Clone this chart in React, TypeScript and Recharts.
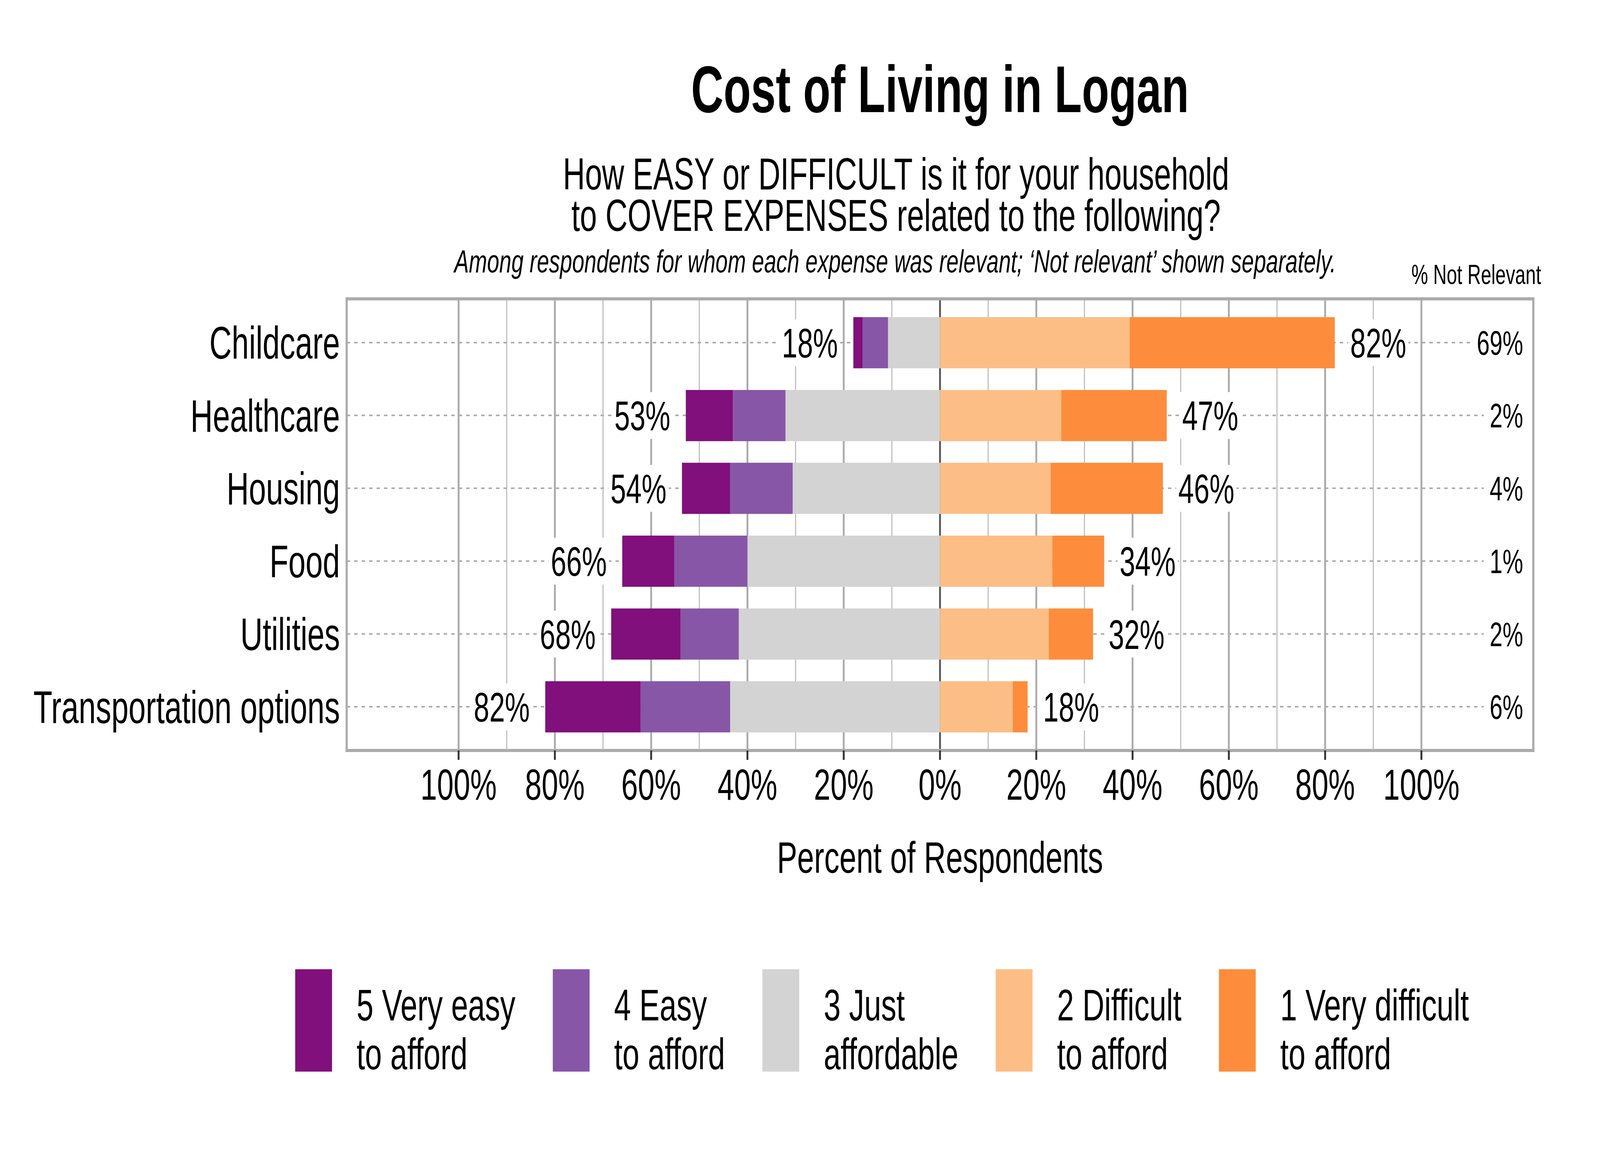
import React from 'react';
import { BarChart, Bar, XAxis, YAxis, CartesianGrid, LabelList } from 'recharts';

const FONT = '"Liberation Sans", Arial, Helvetica, sans-serif';

// ---- data ----
const categories = ['Childcare', 'Healthcare', 'Housing', 'Food', 'Utilities', 'Transportation options'];
const veryEasy = [1.9, 9.8, 10.0, 10.8, 14.4, 19.8];
const easy = [5.3, 10.9, 13.0, 15.2, 12.1, 18.6];
const justAffordable = [10.8, 32.1, 30.6, 40.0, 41.8, 43.6];
const difficult = [39.4, 25.2, 23.0, 23.3, 22.6, 15.1];
const veryDifficult = [42.6, 21.9, 23.3, 10.8, 9.2, 3.1];
const easyTotals = [18, 53, 54, 66, 68, 82];
const difficultTotals = [82, 47, 46, 34, 32, 18];
const notRelevant = [69, 2, 4, 1, 2, 6];

const majorTicks = [-100, -80, -60, -40, -20, 0, 20, 40, 60, 80, 100];
const minorTicks = [-90, -70, -50, -30, -10, 10, 30, 50, 70, 90];
const zeroTick = [0];

const legendLabels = ['5 Very easy\nto afford', '4 Easy\nto afford', '3 Just\naffordable', '2 Difficult\nto afford', '1 Very difficult\nto afford'];
const legendColors = ['#810F7C', '#8856A7', '#D3D3D3', '#FDBE85', '#FD8D3C'];

const X_LIMIT = 123.25;
const xDomain = [-X_LIMIT, X_LIMIT];

const CHART_W = 6000;
const CHART_H = 3000;

const data = categories.map((cat, i) => ({
  cat,
  just: -justAffordable[i],
  easy: -easy[i],
  veryEasy: -veryEasy[i],
  difficult: difficult[i],
  veryDifficult: veryDifficult[i],
  leftLabel: easyTotals[i],
  rightLabel: difficultTotals[i],
  nrAnchor: 0,
}));

const BORDER = { stroke: '#ABABAB', strokeWidth: 8, strokeLinecap: 'square' as const };

const glyphW = (s: string) =>
  s.split('').reduce((a, c) => a + (c === '%' ? 0.889 : c === ' ' ? 0.278 : 0.556), 0);

const LABEL_FS = 105;
const LABEL_GAP = 58;

const makeEdgeLabel = (side: 'left' | 'right') => (props: any) => {
  const { x, y, width, height, value } = props;
  if (x == null || y == null) return null;
  const xa = Number(x), wa = Number(width), ya = Number(y), ha = Number(height);
  const x0 = Math.min(xa, xa + wa);
  const x1 = Math.max(xa, xa + wa);
  const cy = ya + ha / 2;
  const text = `${value}%`;
  const tw = glyphW(text) * LABEL_FS;
  const tx = side === 'left' ? x0 - LABEL_GAP - tw : x1 + LABEL_GAP;
  return (
    <g>
      <rect x={tx - 8} y={cy - 60} width={tw + 16} height={120} fill="#FFFFFF" />
      <text x={tx} y={cy + 0.358 * LABEL_FS} fontSize={LABEL_FS} fill="#000" fontFamily={FONT}>
        {text}
      </text>
    </g>
  );
};

const NR_FS = 87;
const NotRelevantTick = (props: any) => {
  const { x, y, payload } = props;
  const i = categories.indexOf(payload.value);
  if (i < 0) return null;
  const text = `${notRelevant[i]}%`;
  const tw = glyphW(text) * NR_FS;
  return (
    <g>
      <rect x={x - tw - 22} y={y - 55} width={tw + 22 + 30} height={110} fill="#FFFFFF" />
      <text x={x} y={y + 0.358 * NR_FS} textAnchor="end" fontSize={NR_FS} fill="#000" fontFamily={FONT}>
        {text}
      </text>
    </g>
  );
};

const CategoryTick = (props: any) => {
  const { x, y, payload } = props;
  return (
    <text x={x} y={y + 0.358 * 116} textAnchor="end" fontSize={116} fill="#000" fontFamily={FONT}>
      {payload.value}
    </text>
  );
};

export default function App() {
  // The chart is laid out at 6000x3000; if the browser viewport is smaller, fit it to the viewport.
  const vw = typeof window !== 'undefined' && window.innerWidth >= 1000 ? window.innerWidth : CHART_W;
  const vh = typeof window !== 'undefined' && window.innerHeight >= 500 ? window.innerHeight : CHART_H;
  const sx = Math.min(1, vw / CHART_W);
  const sy = Math.min(1, vh / CHART_H);

  return (
    <div
      style={{
        position: 'absolute',
        left: 0,
        top: 0,
        width: CHART_W,
        height: CHART_H,
        background: '#fff',
        fontFamily: FONT,
        transform: `scale(${sx}, ${sy})`,
        transformOrigin: '0 0',
      }}
    >
      <BarChart
        width={CHART_W}
        height={CHART_H}
        data={data}
        layout="vertical"
        stackOffset="sign"
        barSize={131}
        margin={{ top: 764, right: 250, bottom: 749, left: 0 }}
      >
        <CartesianGrid xAxisId="minor" yAxisId="main" horizontal={false} stroke="#B3B3B3" strokeWidth={3.5} />
        <CartesianGrid xAxisId="main" yAxisId="main" horizontal={false} stroke="#ABABAB" strokeWidth={7} />
        <CartesianGrid xAxisId="main" yAxisId="main" vertical={false} stroke="#ABABAB" strokeWidth={4} strokeDasharray="13 15" />
        <CartesianGrid xAxisId="zero" yAxisId="main" horizontal={false} stroke="#5C5C5C" strokeWidth={7} />
        <XAxis
          xAxisId="main"
          type="number"
          domain={xDomain}
          allowDataOverflow
          ticks={majorTicks}
          interval={0}
          tickFormatter={(v: number) => `${Math.abs(v)}%`}
          tick={{ fontSize: 112, fill: '#000', fontFamily: FONT }}
          tickSize={24}
          tickMargin={22}
          tickLine={{ stroke: '#333333', strokeWidth: 7 }}
          axisLine={BORDER}
          height={330}
          label={{ value: 'Percent of Respondents', position: 'insideBottom', offset: 17, fontSize: 114, fill: '#000', fontFamily: FONT }}
        />
        <XAxis xAxisId="top" orientation="top" type="number" domain={xDomain} allowDataOverflow ticks={zeroTick} tick={false} tickLine={false} axisLine={BORDER} height={1} />
        <XAxis xAxisId="minor" type="number" domain={xDomain} allowDataOverflow ticks={minorTicks} hide />
        <XAxis xAxisId="zero" type="number" domain={xDomain} allowDataOverflow ticks={zeroTick} hide />
        <YAxis
          yAxisId="main"
          type="category"
          dataKey="cat"
          width={1300}
          interval={0}
          tickLine={false}
          axisLine={BORDER}
          tickSize={0}
          tickMargin={25}
          tick={<CategoryTick />}
          padding={{ top: 18.7, bottom: 18.7 }}
        />
        <YAxis
          yAxisId="nr"
          orientation="right"
          mirror
          type="category"
          dataKey="cat"
          width={1}
          interval={0}
          tickLine={false}
          axisLine={BORDER}
          tickSize={0}
          tickMargin={38}
          tick={<NotRelevantTick />}
          padding={{ top: 18.7, bottom: 18.7 }}
        />
        <Bar xAxisId="main" yAxisId="nr" dataKey="nrAnchor" fill="none" barSize={1} isAnimationActive={false} />
        <Bar xAxisId="main" yAxisId="main" dataKey="just" stackId="s" fill={legendColors[2]} isAnimationActive={false} />
        <Bar xAxisId="main" yAxisId="main" dataKey="easy" stackId="s" fill={legendColors[1]} isAnimationActive={false} />
        <Bar xAxisId="main" yAxisId="main" dataKey="veryEasy" stackId="s" fill={legendColors[0]} isAnimationActive={false}>
          <LabelList dataKey="leftLabel" content={makeEdgeLabel('left')} />
        </Bar>
        <Bar xAxisId="main" yAxisId="main" dataKey="difficult" stackId="s" fill={legendColors[3]} isAnimationActive={false} />
        <Bar xAxisId="main" yAxisId="main" dataKey="veryDifficult" stackId="s" fill={legendColors[4]} isAnimationActive={false}>
          <LabelList dataKey="rightLabel" content={makeEdgeLabel('right')} />
        </Bar>
      </BarChart>

      <svg width={CHART_W} height={CHART_H} style={{ position: 'absolute', left: 0, top: 0, pointerEvents: 'none' }}>
        <text x={3525} y={287} textAnchor="middle" fontSize={168} fontWeight="bold" fill="#000" fontFamily={FONT}>
          Cost of Living in Logan
        </text>
        <text x={3360} y={485} textAnchor="middle" fontSize={115} fill="#000" fontFamily={FONT}>
          How EASY or DIFFICULT is it for your household
        </text>
        <text x={3360} y={591} textAnchor="middle" fontSize={115} fill="#000" fontFamily={FONT}>
          to COVER EXPENSES related to the following?
        </text>
        <text x={3357} y={697} textAnchor="middle" fontSize={82} fontStyle="italic" fill="#000" fontFamily={FONT}>
          Among respondents for whom each expense was relevant; ‘Not relevant’ shown separately.
        </text>
        <text x={5536} y={727} textAnchor="middle" fontSize={70} fill="#000" fontFamily={FONT}>
          % Not Relevant
        </text>
      </svg>

      <div style={{ position: 'absolute', left: 1107, top: 2481, display: 'flex', alignItems: 'flex-start', gap: 140 }}>
        {legendLabels.map((lab, i) => (
          <div key={lab} style={{ display: 'flex', alignItems: 'flex-start' }}>
            <div style={{ width: 138, height: 262, background: legendColors[i] }} />
            <div style={{ marginLeft: 92, marginTop: 29, fontSize: 114, lineHeight: '125px', whiteSpace: 'pre', color: '#000', fontFamily: FONT }}>
              {lab}
            </div>
          </div>
        ))}
      </div>
    </div>
  );
}
